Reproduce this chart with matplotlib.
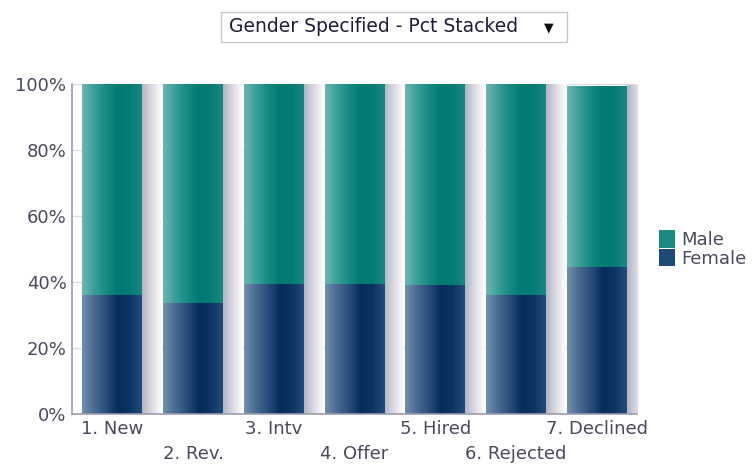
import numpy as np
import matplotlib
matplotlib.use('Agg')
import matplotlib.pyplot as plt
from matplotlib.colors import LinearSegmentedColormap
from matplotlib.patches import FancyBboxPatch

# data
stages = ['1. New', '2. Rev.', '3. Intv', '4. Offer', '5. Hired', '6. Rejected', '7. Declined']
female = [36.0, 33.5, 39.5, 39.5, 39.0, 36.0, 44.5]
male = [64.0, 66.5, 60.5, 60.5, 61.0, 64.0, 55.0]
series_names = ['Male', 'Female']

txt = '#4a4a5e'
male_cmap = LinearSegmentedColormap.from_list('m', ['#6cb8b2', '#3c9e98', '#168a84', '#007a72', '#067c76', '#1c8682'])
fem_cmap = LinearSegmentedColormap.from_list('f', ['#7090b0', '#4a6a90', '#2a4e7a', '#062c5e', '#0e3462', '#224c7a'])
shadow_cmap = LinearSegmentedColormap.from_list('s', ['#b4b4c0', '#dcdce2', '#ffffff'])

fig = plt.figure(figsize=(7.56, 4.68), dpi=100)
ax = fig.add_axes([72/756, 1-414/468, (637-72)/756, (414-84)/468])

x = np.arange(len(stages))
w = 0.74
grad = np.linspace(0, 1, 256).reshape(1, -1)

# shadows
for xi, f, m in zip(x, female, male):
    ax.imshow(grad, cmap=shadow_cmap, aspect='auto', extent=(xi + w/2, xi + w/2 + 0.24, 0, f + m),
              zorder=1, interpolation='bicubic')

b1 = ax.bar(x, female, w, color='#1e4a78', zorder=2, label='Female')
b2 = ax.bar(x, male, w, bottom=female, color='#1a8a85', zorder=2, label='Male')

for bars, cmap in ((b1, fem_cmap), (b2, male_cmap)):
    for p in bars:
        x0, y0 = p.get_x(), p.get_y()
        im = ax.imshow(grad, cmap=cmap, aspect='auto',
                       extent=(x0, x0 + p.get_width(), y0, y0 + p.get_height()),
                       zorder=3, interpolation='bicubic')
        im.set_clip_path(p)

ax.set_xlim(-0.5, 6.5)
ax.set_ylim(0, 100)
ax.set_yticks(range(0, 101, 20))
ax.set_yticklabels([f'{v}%' for v in range(0, 101, 20)])
ax.set_xticks(x)
ax.set_xticklabels(stages)
ax.tick_params(length=0, colors=txt, labelsize=13, pad=4)
# staggered labels
for i, t in enumerate(ax.xaxis.get_major_ticks()):
    if i % 2 == 1:
        t.set_pad(22)
ax.grid(axis='y', color='#dcdce4', lw=1, zorder=0)
ax.set_axisbelow(True)
for s in ['top', 'right']:
    ax.spines[s].set_visible(False)
for s in ['left', 'bottom']:
    ax.spines[s].set_color('#9c9cb4')
    ax.spines[s].set_linewidth(1.2)
    ax.spines[s].set_zorder(5)

# legend
handles = [b2.patches[0], b1.patches[0]]
fig.legend(handles, series_names, loc='center left', bbox_to_anchor=(652/756, 1-249/468),
           frameon=False, fontsize=13, handlelength=0.9, handleheight=1.1,
           handletextpad=0.3, labelspacing=0.0, labelcolor=txt, borderaxespad=0)

# dropdown box
box = FancyBboxPatch((221/756, 1-42/468), (567-221)/756, 30/468, boxstyle='square,pad=0',
                     transform=fig.transFigure, facecolor='white', edgecolor='#c8c8d0', lw=1)
fig.patches.append(box)
fig.text(229/756, 1-27/468, 'Gender Specified - Pct Stacked', fontsize=13.5, color='#1e1e3c',
         va='center', ha='left')
fig.text(549/756, 1-28/468, '\u25BC', fontsize=9, color='#111111', va='center', ha='center')

fig.savefig('out.png', dpi=100)
